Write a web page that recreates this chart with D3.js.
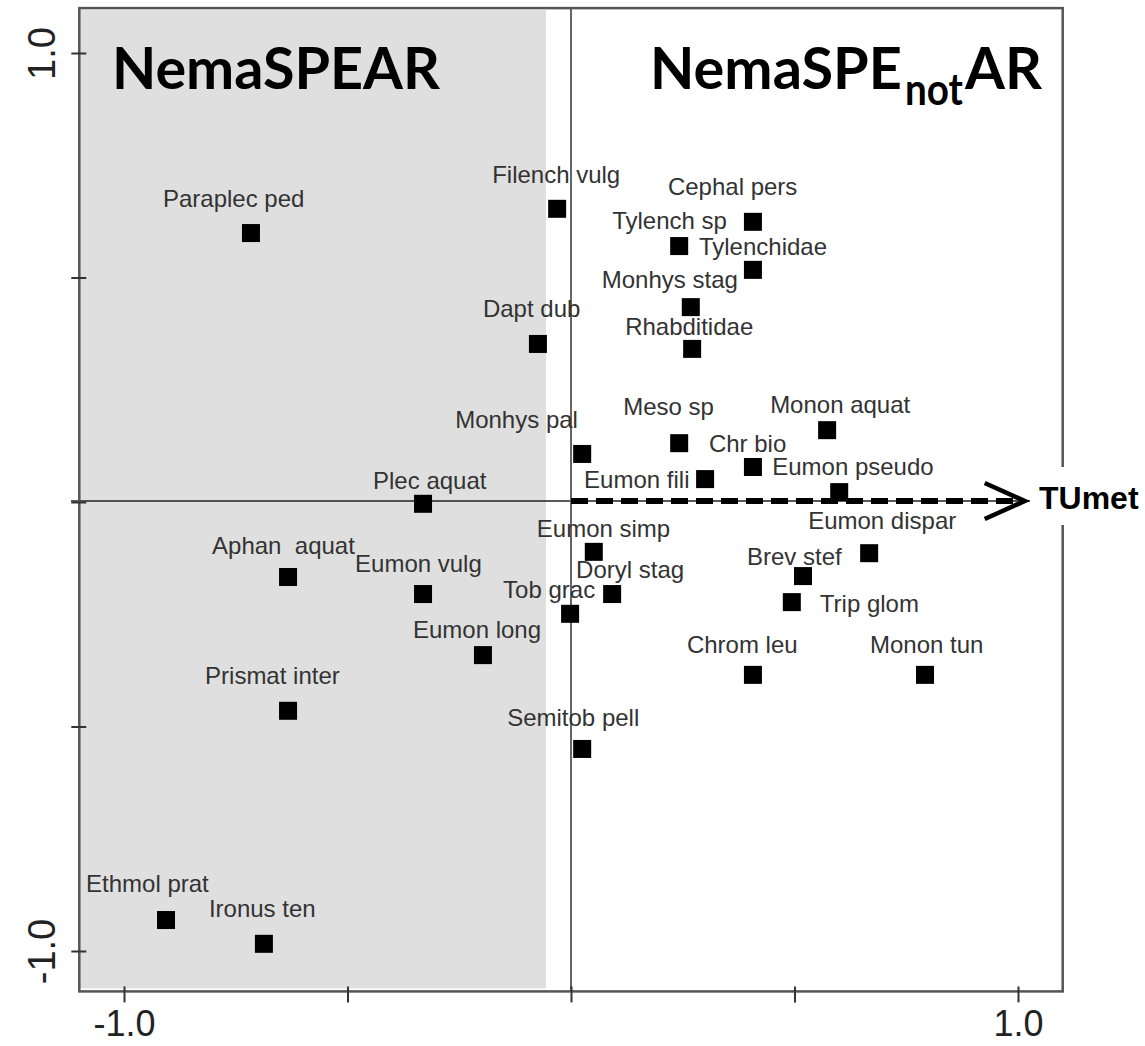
<!DOCTYPE html>
<html>
<head>
<meta charset="utf-8">
<script src="https://cdn.jsdelivr.net/npm/d3@7"></script>
<style>
  body { margin: 0; background: #fff; }
  svg { display: block; }
</style>
</head>
<body>
<div class="plot"></div>
<script>
// species scores (axis 1 / axis 2)
let species=['Paraplec ped','Filench vulg','Cephal pers','Tylench sp','Tylenchidae','Monhys stag','Dapt dub','Rhabditidae','Meso sp','Monon aquat',
  'Monhys pal','Chr bio','Eumon fili','Eumon pseudo','Plec aquat','Eumon simp','Eumon dispar','Aphan  aquat','Brev stef','Eumon vulg',
  'Doryl stag','Trip glom','Tob grac','Eumon long','Chrom leu','Monon tun','Prismat inter','Semitob pell','Ethmol prat','Ironus ten']
let xScore=[-0.716,-0.031,0.407,0.242,0.407,0.268,-0.074,0.271,0.242,0.573,
  0.025,0.407,0.300,0.600,-0.331,0.051,0.667,-0.633,0.519,-0.331,
  0.092,0.494,-0.002,-0.197,0.407,0.792,-0.633,0.025,-0.906,-0.687]
let yScore=[0.599,0.653,0.624,0.570,0.517,0.434,0.352,0.341,0.131,0.160,
  0.107,0.078,0.051,0.022,-0.004,-0.111,-0.114,-0.167,-0.165,-0.205,
  -0.205,-0.223,-0.249,-0.341,-0.385,-0.385,-0.465,-0.550,-0.931,-0.984]
// environmental vector
let envName='TUmet'
let envVec=[1.015,0]
let tickVals=[-1,-0.5,0,0.5,1]
let tickText={'-1':'-1.0','1':'1.0'}
let speBoundary=-0.056

// label offsets in px from each point (left edge, baseline)
let labelDx=[-88,-65,-85,-67,-54,-89,-55,-67,-56,-57,-127,-44,-121,-67,-50,-57,-61,-76,-56,-68,-36,28,-67,-70,-66,-55,-83,-75,-80,-55]
let labelDy=[-26,-26,-27,-17,-15,-19,-27,-14,-28,-17,-26,-15,9,-17,-15,-15,-24,-23,-11,-22,-16,10,-16,-17,-22,-22,-27,-23,-28,-27]

let w=1145, h=1046
let xScale=d3.scaleLinear().domain([-1,1]).range([124,1018])
let yScale=d3.scaleLinear().domain([-1,1]).range([951,53])
let xlim=[-1.1,1.1], ylim=[-1.09,1.1]

let svg=d3.select('.plot').append('svg').attr('width',w).attr('height',h)
let bx0=xScale(xlim[0]), bx1=xScale(xlim[1]), by0=yScale(ylim[1]), by1=yScale(ylim[0])

// shaded NemaSPEAR region
svg.append('rect').attr('x',bx0).attr('y',by0+2).attr('width',xScale(speBoundary)-bx0).attr('height',by1-by0-5).attr('fill','#dfdfdf')

// zero lines
svg.append('line').attr('x1',71).attr('x2',bx1).attr('y1',yScale(0)-1).attr('y2',yScale(0)-1)
  .attr('stroke','#222').attr('stroke-width',1.6)
svg.append('line').attr('x1',xScale(0)).attr('x2',xScale(0)).attr('y1',by0).attr('y2',by1)
  .attr('stroke','#666').attr('stroke-width',2)

// box
svg.append('rect').attr('x',bx0).attr('y',by0).attr('width',bx1-bx0).attr('height',by1-by0)
  .attr('fill','none').attr('stroke','#555').attr('stroke-width',2.5)

// axes
let yAxis=d3.axisLeft(yScale).tickValues(tickVals).tickSize(15).tickSizeOuter(0).tickFormat(d=>tickText[d]||'')
let gy=svg.append('g').attr('transform','translate('+(bx0+7)+',0)').call(yAxis)
gy.select('.domain').remove()
gy.selectAll('.tick line').attr('stroke','#333').attr('stroke-width',2)
gy.selectAll('.tick text').attr('x',null).attr('dy',null).attr('text-anchor','middle')
  .attr('transform','translate('+(55-bx0-7)+',0) rotate(-90)')
  .style('font-family','"Liberation Sans", Arial, sans-serif').style('font-size','38px').attr('fill','#222')

let xAxis=d3.axisBottom(xScale).tickValues(tickVals).tickSize(16).tickSizeOuter(0).tickFormat(d=>tickText[d]||'')
let gx=svg.append('g').attr('transform','translate(0,'+(by1-5)+')').call(xAxis)
gx.select('.domain').remove()
gx.selectAll('.tick line').attr('stroke','#333').attr('stroke-width',2)
gx.selectAll('.tick text').attr('y',1036-(by1-5)).attr('dy',null)
  .style('font-family','"Liberation Sans", Arial, sans-serif').style('font-size','36px').attr('fill','#222')

// environmental arrow
let ax0=xScale(0), ay=yScale(envVec[1])-1, ax1=xScale(envVec[0])
svg.append('line').attr('x1',ax0).attr('x2',ax1-4).attr('y1',ay).attr('y2',ay)
  .attr('stroke','#000').attr('stroke-width',6).attr('stroke-dasharray','17,8')
svg.append('path').attr('d',d3.line()([[ax1-40,ay-18],[ax1,ay],[ax1-40,ay+18]]))
  .attr('fill','none').attr('stroke','#000').attr('stroke-width',4.5).attr('stroke-linejoin','miter')

// species points
svg.selectAll('rect.sp').data(species).enter().append('rect').attr('class','sp')
  .attr('x',(d,i)=>xScale(xScore[i])-9).attr('y',(d,i)=>yScale(yScore[i])-9)
  .attr('width',18).attr('height',18).attr('fill','#000')
svg.selectAll('text.sp').data(species).enter().append('text').attr('class','sp')
  .attr('x',(d,i)=>xScale(xScore[i])+labelDx[i]).attr('y',(d,i)=>yScale(yScore[i])+labelDy[i])
  .attr('xml:space','preserve')
  .style('white-space','pre')
  .style('font-family','"Liberation Sans", Arial, sans-serif').style('font-size','24px').attr('fill','#333')
  .text(d=>d)

// vector label with white backing
svg.append('rect').attr('x',1030).attr('y',467).attr('width',115).attr('height',58).attr('fill','#fff')
svg.append('text').attr('x',1039).attr('y',509).text(envName)
  .style('font-family','"Liberation Sans", Arial, sans-serif').style('font-size','32px').style('font-weight','bold').attr('fill','#000')

// group titles
let tf='Lato, "Open Sans", sans-serif'
svg.append('text').attr('x',112).attr('y',89).text('NemaSPEAR').attr('textLength',328).attr('lengthAdjust','spacingAndGlyphs')
  .style('font-family',tf).style('font-size','57px').style('font-weight','bold').attr('fill','#000')
svg.append('text').attr('x',650).attr('y',89).text('NemaSPE').attr('textLength',252).attr('lengthAdjust','spacingAndGlyphs')
  .style('font-family',tf).style('font-size','57px').style('font-weight','bold').attr('fill','#000')
svg.append('text').attr('x',905).attr('y',105).text('not').attr('textLength',58).attr('lengthAdjust','spacingAndGlyphs')
  .style('font-family',tf).style('font-size','44px').style('font-weight','bold').attr('fill','#000')
svg.append('text').attr('x',965).attr('y',89).text('AR').attr('textLength',77).attr('lengthAdjust','spacingAndGlyphs')
  .style('font-family',tf).style('font-size','57px').style('font-weight','bold').attr('fill','#000')
</script>
</body>
</html>
